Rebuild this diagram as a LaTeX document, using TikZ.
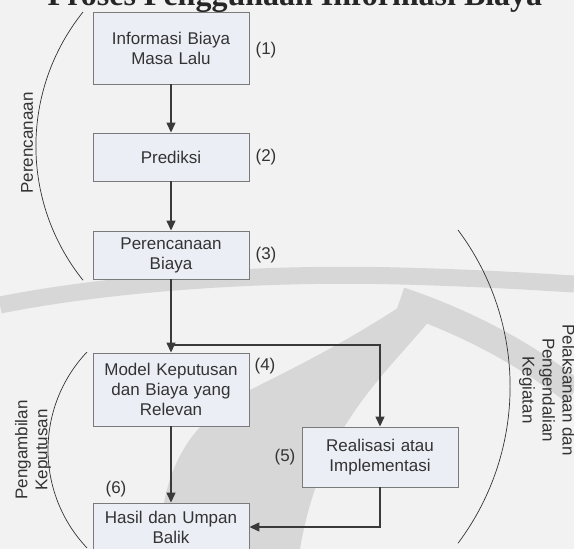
\documentclass[tikz,border=0pt]{standalone}
\usepackage{fontspec}
\setmainfont{Liberation Sans}
\newfontfamily\titlefont{Liberation Serif}
\usetikzlibrary{arrows.meta}
\definecolor{bg}{HTML}{F2F2F2}
\definecolor{wm}{HTML}{D7D7D7}
\definecolor{boxfill}{HTML}{ECEEF5}
\definecolor{boxline}{HTML}{7A7A7A}
\definecolor{conn}{HTML}{3A3A3A}
\definecolor{txt}{HTML}{333333}
\tikzset{
  stepbox/.style={draw=boxline, line width=0.9pt, fill=boxfill, minimum width=156, text width=150,
    align=center, inner sep=0pt, font=\fontsize{17}{20}\selectfont, text=txt},
  flow/.style={draw=conn, line width=1.3pt, -{Triangle[length=10pt,width=9pt]}},
  plain/.style={draw=conn, line width=1.3pt},
  numlabel/.style={font=\fontsize{17}{20}\selectfont, text=txt, inner sep=0pt},
  phase/.style={draw=black!80, line width=0.7pt},
  phaselabel/.style={font=\fontsize{17}{20}\selectfont, text=txt, align=center, inner sep=0pt},
  wmband/.style={draw=wm, line cap=butt},
}
\begin{document}
\begin{tikzpicture}[x=1pt, y=-1pt]
\useasboundingbox (0,0) rectangle (574,549);
\fill[bg] (0,0) rectangle (574,549);
\begin{scope}
\clip (0,0) rectangle (574,549);
% faint watermark (background)
\draw[wmband, line width=17pt] (0,305) .. controls (100,285) and (250,272) .. (400,276) .. controls (480,278) and (540,282) .. (574,284);
\draw[wmband, line width=26pt] (400,300) .. controls (460,320) and (520,350) .. (574,392);
\fill[wm] (160,549) .. controls (160,470) and (190,420) .. (250,390) .. controls (300,365) and (350,340) .. (410,300)
  -- (430,320) .. controls (380,380) and (320,430) .. (300,549) -- cycle;

% title (cut at top)
\node[anchor=base, inner sep=0pt, font=\titlefont\bfseries\fontsize{32}{32}\selectfont, text=black!85] (title) at (295,5.5) {Proses Penggunaan Informasi Biaya};

% boxes
\node[stepbox, minimum height=72] (b1) at (171,48) {Informasi Biaya\\Masa Lalu};
\node[stepbox, minimum height=48] (b2) at (171,157) {Prediksi};
\node[stepbox, minimum height=48] (b3) at (171,255) {Perencanaan\\Biaya};
\node[stepbox, minimum height=73] (b4) at (171,389.5) {Model Keputusan\\dan Biaya yang\\Relevan};
\node[stepbox, minimum height=60] (b5) at (380,457) {Realisasi atau\\Implementasi};
\node[stepbox, minimum height=48] (b6) at (171,527) {Hasil dan Umpan\\Balik};

% number labels
\node[numlabel] (n1) at (266,50) {(1)};
\node[numlabel] (n2) at (266,157) {(2)};
\node[numlabel] (n3) at (266,255) {(3)};
\node[numlabel] (n4) at (265,366) {(4)};
\node[numlabel] (n5) at (285,457) {(5)};
\node[numlabel] (n6) at (116,489) {(6)};

% connectors
\coordinate (j) at (171,345);
\coordinate (jr) at (380,345);
\coordinate (br) at (380,527);
\draw[flow] (b1) -- (b2);
\draw[flow] (b2) -- (b3);
\draw[plain] (b3.south) -- (j);
\draw[flow] (j) -- (b4.north);
\draw[flow] (j) -- (jr) -- (b5.north);
\draw[flow] (b4) -- (b6);
\draw[flow] (b5.south) -- (br) -- (b6.east);

% phase arcs
\draw[phase] (83,12) arc[start angle=218.7, end angle=141.3, radius=214.5];
\draw[phase] (87,352) arc[start angle=223.4, end angle=136.6, radius=142.6];
\draw[phase] (458,230) arc[start angle=-36.8, end angle=36.8, radius=261.5];

\node[phaselabel, rotate=90] (p1) at (27,143) {Perencanaan};
\node[phaselabel, rotate=90] (p2) at (33,450) {Pengambilan\\Keputusan};
\node[phaselabel, rotate=-90] (p3) at (547,390) {Pelaksanaan dan\\Pengendalian\\Kegiatan};
\end{scope}
\end{tikzpicture}
\end{document}
